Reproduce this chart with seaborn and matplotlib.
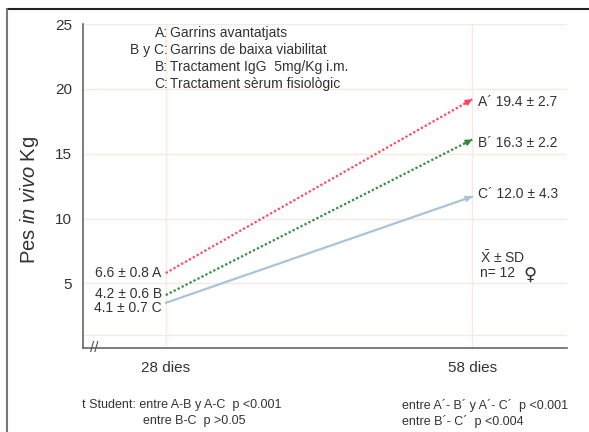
import pandas as pd
import seaborn as sns
import matplotlib.pyplot as plt
from matplotlib.lines import Line2D

# data
days = [28, 58]
groups = ["A", "B", "C"]
start_kg = [5.8, 4.1, 3.5]
end_kg = [19.2, 16.1, 11.7]
start_labels = ["6.6 ± 0.8 A", "4.2 ± 0.6 B", "4.1 ± 0.7 C"]
end_labels = ["A´ 19.4 ± 2.7", "B´ 16.3 ± 2.2", "C´ 12.0 ± 4.3"]
legend_keys = ["A:", "B y C:", "B:", "C:"]
legend_texts = ["Garrins avantatjats", "Garrins de baixa viabilitat",
                "Tractament IgG  5mg/Kg i.m.", "Tractament sèrum fisiològic"]
y_ticks = [1, 5, 10, 15, 20, 25]
y_ticklabels = ["", "5", "10", "15", "20", "25"]
x_ticklabels = ["28 dies", "58 dies"]

colors = {"A": "#ff4462", "B": "#2e8b3e", "C": "#a9c3d8"}
dashes = {"A": (1, 1), "B": (1, 1), "C": ""}

sns.set_style("white")
plt.rcParams["font.family"] = ["Liberation Sans", "DejaVu Sans"]
plt.rcParams["mathtext.fontset"] = "custom"
plt.rcParams["mathtext.rm"] = "Liberation Sans"
plt.rcParams["mathtext.it"] = "Liberation Sans:italic"
txt = "#333333"

df = pd.DataFrame({
    "dia": days * len(groups),
    "kg": [v for pair in zip(start_kg, end_kg) for v in pair],
    "grup": [g for g in groups for _ in days],
})

fig = plt.figure(figsize=(5.89, 4.32), dpi=100)
ax = fig.add_axes([0.141, 0.194, 0.822, 0.750])

# grid
for yv in y_ticks:
    ax.axhline(yv, color="#f6e9dd", lw=1, zorder=0)
for xv in days:
    ax.axvline(xv, color="#f6e9dd", lw=1, zorder=0)

sns.lineplot(data=df, x="dia", y="kg", hue="grup", style="grup",
             palette=colors, dashes=dashes, lw=1.6, legend=False, ax=ax)

# arrow heads at the end of each line
for g, s, e in zip(groups, start_kg, end_kg):
    ax.annotate("", xy=(days[1], e),
                xytext=(days[1] - 0.8, e - (e - s) * 0.8 / (days[1] - days[0])),
                arrowprops=dict(arrowstyle="-|>", color=colors[g], lw=1.2,
                                mutation_scale=9, shrinkA=0, shrinkB=0))

ax.set_xlim(19.9, 67.3)
ax.set_ylim(0, 25)
ax.set_xticks(days)
ax.set_xticklabels(x_ticklabels, fontsize=11, color=txt)
ax.set_yticks(y_ticks)
ax.set_yticklabels(y_ticklabels, fontsize=11, color=txt)
ax.tick_params(axis="both", direction="out", length=5, width=1, color="#555555", pad=3)
ax.tick_params(axis="x", pad=4)
ax.set_xlabel("")
ax.set_ylabel(r"Pes $\mathit{in\ vivo}$ Kg", fontsize=14.5, color=txt)
ax.yaxis.set_label_coords(-0.087, 0.457)
for side in ["top", "right"]:
    ax.spines[side].set_visible(False)
for side in ["left", "bottom"]:
    ax.spines[side].set_color("#666666")
    ax.spines[side].set_linewidth(1.2)

# axis break mark
ax.text(21.0, 0, "//", fontsize=11, color="#555555", ha="center", va="center",
        clip_on=False)

# legend block, aligned on the colon
legend_y = [24.3, 23.0, 21.7, 20.4]
for k, t, yv in zip(legend_keys, legend_texts, legend_y):
    ax.text(28.2, yv, k, ha="right", va="center", fontsize=10, color=txt)
    ax.text(28.4, yv, t, ha="left", va="center", fontsize=10, color=txt)

# labels at line starts and ends
start_offsets = [0.0, 0.1, -0.4]
for lab, s, off in zip(start_labels, start_kg, start_offsets):
    ax.text(27.6, s + off, lab, ha="right", va="center", fontsize=10, color=txt)
end_offsets = [-0.2, -0.3, 0.2]
for lab, e, off in zip(end_labels, end_kg, end_offsets):
    ax.text(58.6, e + off, lab, ha="left", va="center", fontsize=10, color=txt)
ax.text(58.8, 7.0, r"$\bar{\mathrm{X}}$ ± SD", ha="left", va="center", fontsize=10, color=txt)
ax.text(58.8, 5.8, "n= 12", ha="left", va="center", fontsize=10, color=txt)
ax.text(63.7, 5.7, "♀", ha="center", va="center", fontsize=13, color=txt,
        family="DejaVu Sans")

# statistics below the chart
fig.text(0.139, 0.0625, "t Student: entre A-B y A-C  p <0.001", fontsize=9, color=txt, va="center")
fig.text(0.243, 0.025, "entre B-C  p >0.05", fontsize=9, color=txt, va="center")
fig.text(0.683, 0.0625, "entre A´- B´ y A´- C´  p <0.001", fontsize=9, color=txt, va="center")
fig.text(0.683, 0.025, "entre B´- C´  p <0.004", fontsize=9, color=txt, va="center")

# image frame (top and left)
fig.add_artist(Line2D([7 / 589, 1], [1 - 9 / 432, 1 - 9 / 432], color="#222222", lw=1.5))
fig.add_artist(Line2D([7 / 589, 7 / 589], [0, 1 - 9 / 432], color="#777777", lw=1.5))

fig.savefig("out.png", dpi=100)
